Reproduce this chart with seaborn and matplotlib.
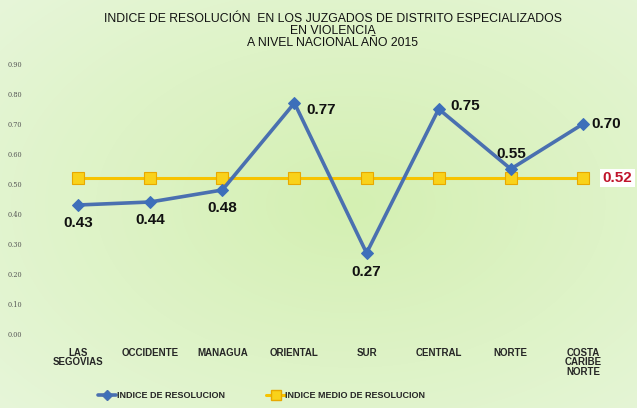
import numpy as np
import pandas as pd
import matplotlib
matplotlib.use("Agg")
import matplotlib.pyplot as plt
from matplotlib.lines import Line2D
import seaborn as sns

categories = ["LAS\nSEGOVIAS", "OCCIDENTE", "MANAGUA", "ORIENTAL", "SUR",
              "CENTRAL", "NORTE", "COSTA\nCARIBE\nNORTE"]
indice = [0.43, 0.44, 0.48, 0.77, 0.27, 0.75, 0.55, 0.70]
indice_medio = [0.52, 0.52, 0.52, 0.52, 0.52, 0.52, 0.52, 0.52]
yticks = [0.0, 0.1, 0.2, 0.3, 0.4, 0.5, 0.6, 0.7, 0.8, 0.9]
title = ("INDICE DE RESOLUCIÓN  EN LOS JUZGADOS DE DISTRITO ESPECIALIZADOS\n"
         "EN VIOLENCIA\nA NIVEL NACIONAL AÑO 2015")

sns.set_style("white")
plt.rcParams['font.family'] = ['Liberation Sans', 'DejaVu Sans']

fig = plt.figure(figsize=(6.37, 4.08), dpi=100)

# gradient background
bg = fig.add_axes([0, 0, 1, 1], zorder=-10)
h, w = 408, 637
yy, xx = np.mgrid[0:h, 0:w]
d = np.sqrt(((xx - 0.55 * w) / (0.8 * w)) ** 2 + ((yy - 0.5 * h) / (0.8 * h)) ** 2)
d = np.clip(d, 0, 1)
c_in = np.array([212, 240, 178]) / 255
c_out = np.array([232, 246, 220]) / 255
img = c_in[None, None, :] * (1 - d[..., None]) + c_out[None, None, :] * d[..., None]
bg.imshow(img, aspect='auto', extent=[0, 1, 0, 1])
bg.axis('off')

ax = fig.add_axes([42 / 637, 1 - 334 / 408, (619 - 42) / 637, (334 - 64) / 408])
ax.patch.set_alpha(0)

df = pd.DataFrame({"x": np.arange(len(categories)), "cat": categories,
                   "indice": indice, "medio": indice_medio})

blue = "#4a70b0"
yellow = "#f7c300"
sns.lineplot(data=df, x="x", y="medio", ax=ax, color=yellow, lw=2.2,
             marker="s", markersize=8, markerfacecolor="#f9d21a",
             markeredgecolor="#e8a800", markeredgewidth=0.8, zorder=3)
sns.lineplot(data=df, x="x", y="indice", ax=ax, color=blue, lw=2.6,
             marker="D", markersize=6, markerfacecolor="#3d6fba",
             markeredgecolor="#3d6fba", zorder=4)

ax.set_xlim(-0.5, len(categories) - 0.5)
ax.set_ylim(0, 0.9)
ax.set_yticks(yticks)
ax.set_yticklabels([f"{v:.2f}" for v in yticks], fontsize=4.8, color="#555555",
                   family="DejaVu Serif")
ax.set_xticks(df["x"])
ax.set_xticklabels(categories, fontsize=7, fontweight="bold", linespacing=0.95)
ax.tick_params(axis='x', length=0, pad=10)
ax.tick_params(axis='y', length=0, pad=14)
ax.set_xlabel("")
ax.set_ylabel("")
for s in ax.spines.values():
    s.set_visible(False)

# data labels (offsets in points)
offsets = [(0, -13), (0, -13), (0, -13), (19, -5), (0, -14), (19, 2), (0, 11), (17, 0)]
for i, (v, off) in enumerate(zip(indice, offsets)):
    ax.annotate(f"{v:.2f}", (i, v), xytext=off, textcoords="offset points",
                ha="center", va="center", fontsize=11, fontweight="bold", color="#111111")

ax.annotate(f"{indice_medio[-1]:.2f}", (len(categories) - 1, indice_medio[-1]),
            xytext=(25, 0), textcoords="offset points", ha="center", va="center",
            fontsize=11, fontweight="bold", color="#c0142c",
            bbox=dict(boxstyle="square,pad=0.15", fc="white", ec="none"),
            annotation_clip=False)

fig.text(0.522, 0.968, title, ha="center", va="top", fontsize=8.8,
         linespacing=1.02, color="#111111")

handles = [
    Line2D([0], [0], color=blue, lw=2.6, marker="D", markersize=5,
           markerfacecolor="#3d6fba"),
    Line2D([0], [0], color=yellow, lw=2.2, marker="s", markersize=7,
           markerfacecolor="#f9d21a", markeredgecolor="#e8a800"),
]
fig.legend(handles, ["INDICE DE RESOLUCION", "INDICE MEDIO DE RESOLUCION"],
           loc="center left", bbox_to_anchor=(98 / 637, 1 - 396 / 408), ncol=2,
           frameon=False, handlelength=2.0, handletextpad=0.1,
           columnspacing=4.6, borderpad=0, borderaxespad=0,
           prop={"weight": "bold", "size": 6.5})

fig.savefig("out.png", dpi=100)
